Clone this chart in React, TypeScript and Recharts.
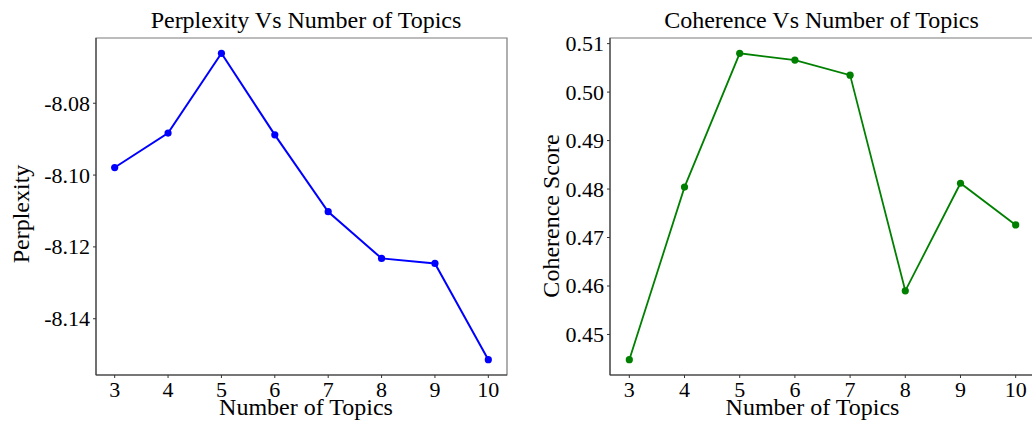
import React from "react";
import {
  LineChart,
  Line,
  XAxis,
  YAxis,
  ReferenceArea,
  Label,
} from "recharts";

const topics = [3, 4, 5, 6, 7, 8, 9, 10];
const perplexity = [-8.0979, -8.0883, -8.0661, -8.0888, -8.1102, -8.1232, -8.1246, -8.1514];
const coherence = [0.4448, 0.4804, 0.508, 0.5066, 0.5035, 0.459, 0.4812, 0.4726];
const perplexityTicks = [-8.14, -8.12, -8.1, -8.08];
const coherenceTicks = [0.45, 0.46, 0.47, 0.48, 0.49, 0.5, 0.51];

const FONT = "'Liberation Serif', 'Times New Roman', serif";
const X_DOMAIN: [number, number] = [2.65, 10.35];

// matplotlib-like 5% padding around data
function padded(values: number[]): [number, number] {
  const lo = Math.min(...values);
  const hi = Math.max(...values);
  const m = (hi - lo) * 0.05;
  return [lo - m, hi + m];
}

function XTick(props: any) {
  const { x, y, payload } = props;
  return (
    <text
      x={x}
      y={y + 16}
      textAnchor="middle"
      fontFamily={FONT}
      fontSize={22}
      fill="#000"
    >
      {payload.value}
    </text>
  );
}

function YTick(props: any) {
  const { x, y, payload } = props;
  return (
    <text
      x={x}
      y={y + 7.5}
      textAnchor="end"
      fontFamily={FONT}
      fontSize={22}
      fill="#000"
    >
      {Number(payload.value).toFixed(2)}
    </text>
  );
}

interface PanelProps {
  left: number;
  title: string;
  titleX: number;
  yLabel: string;
  yLabelX: number;
  yLabelY: number;
  xLabelX: number;
  values: number[];
  ticks: number[];
  color: string;
  strokeWidth: number;
  margin: { top: number; right: number; bottom: number; left: number };
}

function Panel({
  left,
  title,
  titleX,
  yLabel,
  yLabelX,
  yLabelY,
  xLabelX,
  values,
  ticks,
  color,
  strokeWidth,
  margin,
}: PanelProps) {
  const data = topics.map((t, i) => ({ topics: t, value: values[i] }));
  const yDomain = padded(values);
  return (
    <div style={{ position: "absolute", left, top: 0, fontFamily: FONT }}>
      <LineChart width={520} height={423} data={data} margin={margin}>
        {/* full box frame, lighter on top/right like the reference */}
        <ReferenceArea
          x1={X_DOMAIN[0]}
          x2={X_DOMAIN[1]}
          y1={yDomain[0]}
          y2={yDomain[1]}
          fill="none"
          fillOpacity={0}
          stroke="#7a7a7a"
          strokeWidth={1.2}
          strokeOpacity={1}
          ifOverflow="visible"
        />
        <XAxis
          dataKey="topics"
          type="number"
          domain={X_DOMAIN}
          ticks={topics}
          height={40}
          tickSize={3}
          tickMargin={3}
          stroke="#333"
          tick={<XTick />}
          tickLine={{ stroke: "#333" }}
        >
          <Label
            content={() => (
              <text
                x={xLabelX}
                y={415}
                textAnchor="middle"
                fontFamily={FONT}
                fontSize={24}
                fill="#000"
              >
                Number of Topics
              </text>
            )}
          />
        </XAxis>
        <YAxis
          type="number"
          domain={yDomain}
          ticks={ticks}
          width={80}
          tickSize={3}
          tickMargin={3}
          stroke="#333"
          tick={<YTick />}
          tickLine={{ stroke: "#333" }}
        >
          <Label
            content={() => (
              <text
                x={yLabelX}
                y={yLabelY}
                transform={`rotate(-90 ${yLabelX} ${yLabelY})`}
                textAnchor="middle"
                fontFamily={FONT}
                fontSize={24}
                fill="#000"
              >
                {yLabel}
              </text>
            )}
          />
        </YAxis>
        <Line
          dataKey="value"
          stroke={color}
          strokeWidth={strokeWidth}
          dot={{ r: 3.6, fill: color, stroke: color, strokeWidth: 0 }}
          activeDot={false}
          isAnimationActive={false}
        />
      </LineChart>
      <div
        style={{
          position: "absolute",
          top: 8,
          left: titleX - 200,
          width: 400,
          textAlign: "center",
          fontFamily: FONT,
          fontSize: 24,
          lineHeight: "24px",
          color: "#000",
          whiteSpace: "nowrap",
        }}
      >
        {title}
      </div>
    </div>
  );
}

export default function App() {
  return (
    <div
      style={{
        position: "absolute",
        left: 0,
        top: 0,
        width: 1032,
        height: 423,
        overflow: "hidden",
        background: "#fff",
        fontFamily: FONT,
      }}
    >
      <Panel
        left={0}
        title="Perplexity Vs Number of Topics"
        titleX={306}
        yLabel="Perplexity"
        yLabelX={29}
        yLabelY={214}
        xLabelX={306}
        values={perplexity}
        ticks={perplexityTicks}
        color="#0000ff"
        strokeWidth={2}
        margin={{ top: 38, right: 13, bottom: 8, left: 16 }}
      />
      <Panel
        left={520}
        title="Coherence Vs Number of Topics"
        titleX={301.5}
        yLabel="Coherence Score"
        yLabelX={38.5}
        yLabelY={216}
        xLabelX={292.5}
        values={coherence}
        ticks={coherenceTicks}
        color="#008000"
        strokeWidth={1.8}
        margin={{ top: 38, right: 5, bottom: 8, left: 10 }}
      />
    </div>
  );
}
